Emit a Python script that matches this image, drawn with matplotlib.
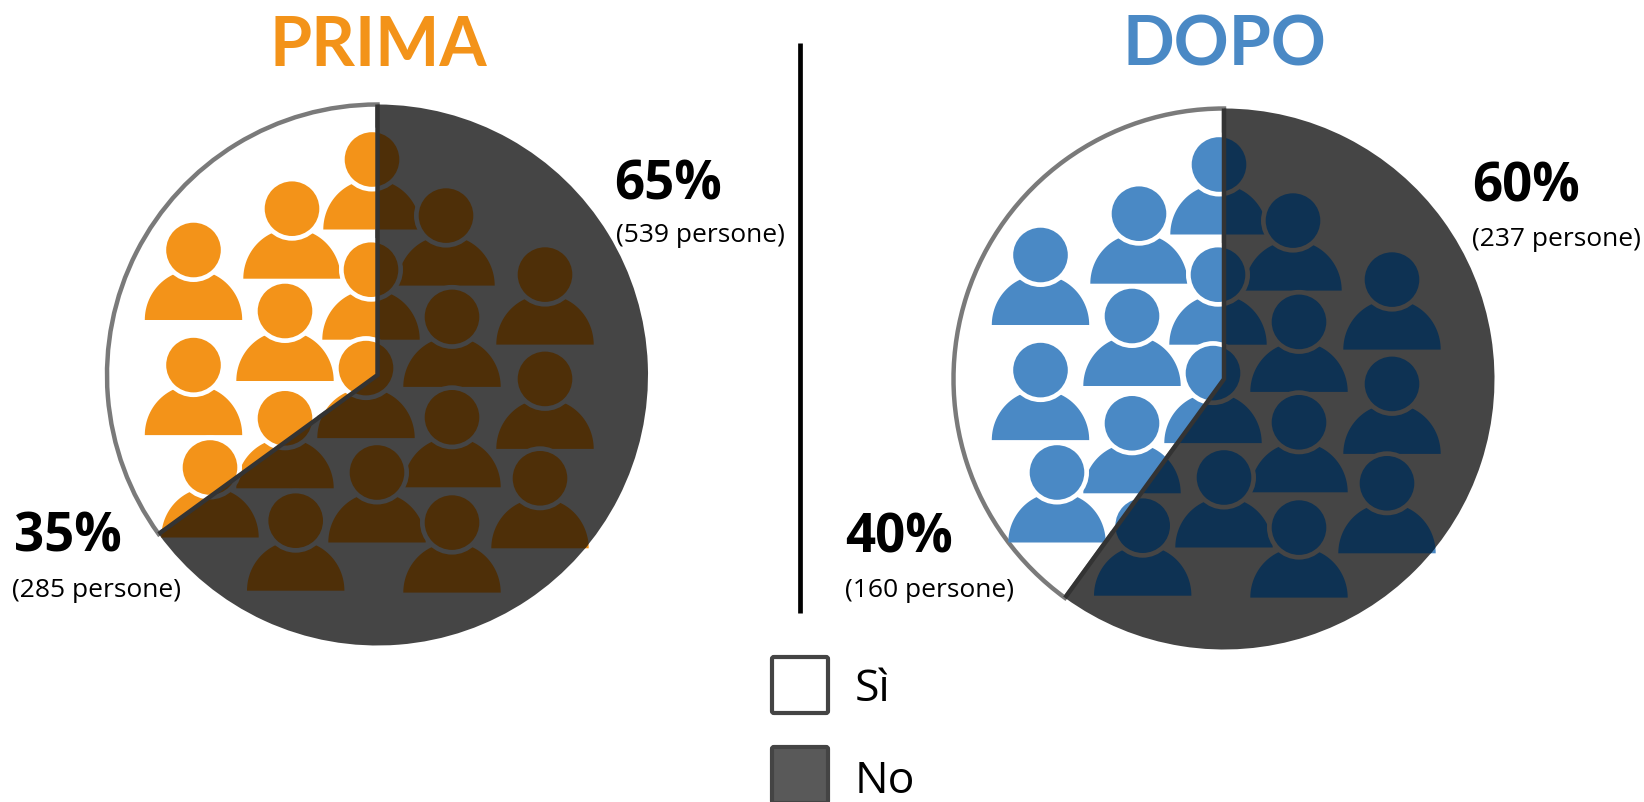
import numpy as np
import matplotlib
matplotlib.use("Agg")
import matplotlib.pyplot as plt
from matplotlib.patches import Circle, Polygon, FancyBboxPatch

W, H = 1644, 803

# data
titles = ["PRIMA", "DOPO"]
si_share = [35, 40]
no_share = [65, 60]
si_people = [285, 160]
no_people = [539, 237]
legend_labels = ["Sì", "No"]

# layout, in pixels of the picture
centers = [(377.5, 376), (1224, 380)]
radius = 270.5
title_pos = [(378, 66), (1224, 66)]
colors = ["#F39319", "#4A89C5"]
dark_colors = ["#4E2F08", "#0E3253"]
no_color = "#454545"
si_text_pos = [(14, 552, 12, 597), (845, 553, 845, 597)]
no_text_pos = [(614, 199, 616, 242), (1472, 202, 1472, 246)]
icon_shift = [(0, 0), (847, 5)]
heads = [(372, 160.5), (292, 209.7), (193.5, 251), (446, 216.6), (545, 275.6),
         (371, 270.7), (285, 312), (452, 317.9), (193.5, 366.1), (366, 369.1),
         (545, 379.9), (285, 419.3), (452, 418.3), (210, 468.5), (377, 473.5),
         (540, 479.3), (295.7, 521.7), (452, 523.6)]

plt.rcParams["font.family"] = ["Open Sans", "DejaVu Sans"]

fig = plt.figure(figsize=(W / 100, H / 100), dpi=100)
ax = fig.add_axes([0, 0, 1, 1])


def draw_person(ax, x, y, color, ring, z, clip=None):
    t = np.linspace(0, np.pi, 60)
    body = np.column_stack([x - 48.7 * np.cos(t), y + 70 - 50 * np.sin(t)])
    parts = [Polygon(body, closed=True, fc=color, ec="none", zorder=z),
             Circle((x, y), 32, fc=ring, ec="none", zorder=z + 0.1),
             Circle((x, y), 27.3, fc=color, ec="none", zorder=z + 0.2)]
    for p in parts:
        ax.add_patch(p)
        if clip is not None:
            p.set_clip_path(clip)


for i in range(2):
    cx, cy = centers[i]
    # y axis is flipped, so start at -90 and go the other way round
    wedges, _ = ax.pie([si_share[i], no_share[i]], center=(cx, cy), radius=radius,
                       startangle=-90, counterclock=False, colors=["white", no_color],
                       frame=True)
    wedges[0].set(edgecolor="#7A7A7A", linewidth=3.2, zorder=2)
    wedges[1].set(edgecolor="none", zorder=6)

    dx, dy = icon_shift[i]
    for hx, hy in heads:
        draw_person(ax, hx + dx, hy + dy, colors[i], "white", 3)
        # same person again in the dark tone, only where the No slice covers it
        draw_person(ax, hx + dx, hy + dy, dark_colors[i], no_color, 6.2, clip=wedges[1])

    a = np.radians(-90 - 3.6 * si_share[i])
    ax.plot([cx, cx, cx + radius * np.cos(a)], [cy - radius, cy, cy + radius * np.sin(a)],
            color="#333333", lw=3.2, solid_joinstyle="miter", solid_capstyle="butt", zorder=7)

    ax.text(title_pos[i][0], title_pos[i][1], titles[i], color=colors[i], fontsize=49,
            family=["Lato", "DejaVu Sans"], fontweight="bold", ha="center", va="baseline")

    x1, y1, x2, y2 = si_text_pos[i]
    ax.text(x1, y1, "%d%%" % si_share[i], fontsize=38, fontweight="bold", va="baseline", color="black")
    ax.text(x2, y2, "(%d persone)" % si_people[i], fontsize=19, va="baseline", color="black")
    x1, y1, x2, y2 = no_text_pos[i]
    ax.text(x1, y1, "%d%%" % no_share[i], fontsize=38, fontweight="bold", va="baseline", color="black")
    ax.text(x2, y2, "(%d persone)" % no_people[i], fontsize=19, va="baseline", color="black")

# divider
ax.plot([800, 800], [44, 614], color="black", lw=3.4, solid_capstyle="butt")

# legend
box_fill = ["white", "#595959"]
box_y = [658, 748]
text_y = [701, 793]
for i in range(2):
    ax.add_patch(FancyBboxPatch((772, box_y[i]), 56, 56, boxstyle="round,pad=0,rounding_size=2",
                                fc=box_fill[i], ec="#444444", lw=3))
    ax.text(855, text_y[i], legend_labels[i], fontsize=32, va="baseline", color="black")

ax.set_aspect("equal")
ax.set_xlim(0, W)
ax.set_ylim(H, 0)
ax.axis("off")

fig.savefig("out.png", dpi=100, facecolor="white")
